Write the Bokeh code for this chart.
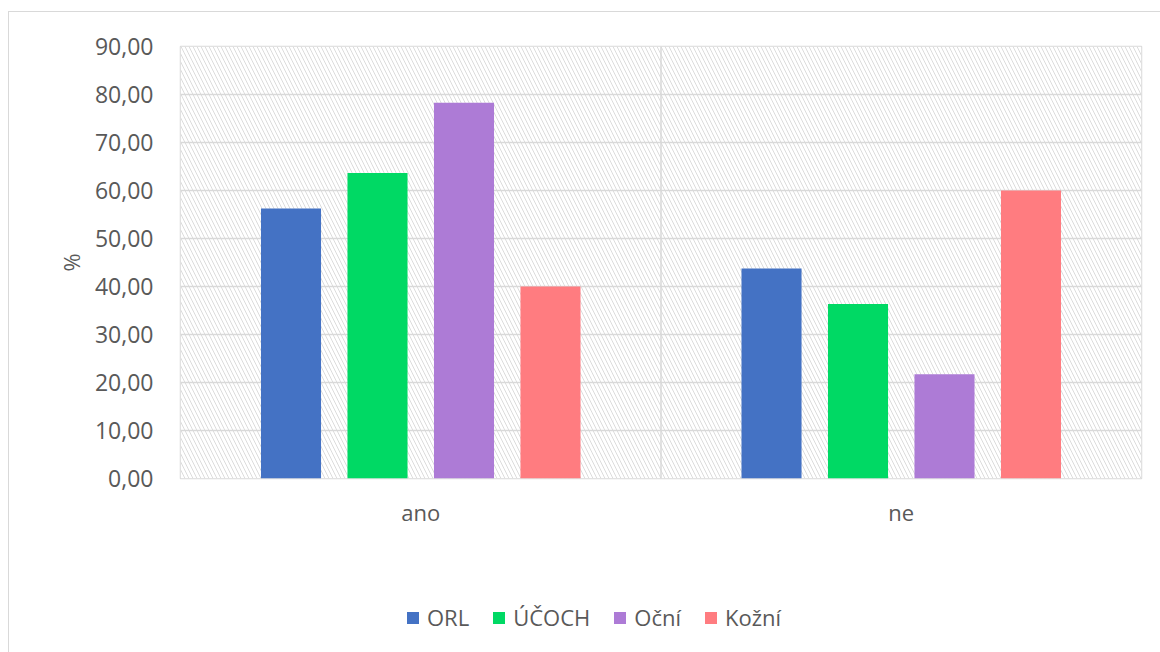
from bokeh.plotting import figure
from bokeh.layouts import column
from bokeh.models import (FactorRange, Range1d, BoxAnnotation, Span, Legend, LegendItem,
                          FixedTicker, CustomJSTickFormatter, ColumnDataSource)
from bokeh.transform import dodge
from bokeh.embed import file_html
from bokeh.resources import INLINE

categories = ["ano", "ne"]
series = ["ORL", "ÚČOCH", "Oční", "Kožní"]
orl = [56.25, 43.75]
ucoch = [63.64, 36.36]
ocni = [78.26, 21.74]
kozni = [40.00, 60.00]
colors = ["#4472C4", "#00D964", "#AD7BD6", "#FF7C80"]
yticks = [0, 10, 20, 30, 40, 50, 60, 70, 80, 90]

src = ColumnDataSource(dict(cat=categories, ORL=orl, UCOCH=ucoch, OCNI=ocni, KOZNI=kozni))
cols = ["ORL", "UCOCH", "OCNI", "KOZNI"]
offsets = [-0.27, -0.09, 0.09, 0.27]

FONT = "Open Sans"
TXT = "#595959"
GRID = "#d9d9d9"

xr = FactorRange(*categories, range_padding=0)
yr = Range1d(0, 90)

p = figure(x_range=xr, y_range=yr,
           width=1151, height=526, output_backend="svg", toolbar_location=None,
           min_border_left=171, min_border_right=19, min_border_top=34, min_border_bottom=60)

# hatched plot-area background
p.add_layout(BoxAnnotation(fill_color="white", fill_alpha=1.0, line_alpha=0,
                           hatch_pattern="\\", hatch_color="#dcdcdc", hatch_scale=8,
                           hatch_weight=1, level="image"))

for c, off, col in zip(cols, offsets, colors):
    p.vbar(x=dodge("cat", off, range=xr), top=c, width=0.125, bottom=0,
           source=src, fill_color=col, line_color=None)

p.outline_line_color = GRID
p.outline_line_width = 1.5
p.xgrid.visible = False
p.ygrid.grid_line_color = GRID
p.ygrid.grid_line_width = 1.5
p.add_layout(Span(location=1.0, dimension="height", line_color=GRID, line_width=1.5))

p.yaxis.ticker = FixedTicker(ticks=yticks)
p.yaxis.formatter = CustomJSTickFormatter(code="return tick.toFixed(2).replace('.', ',');")
for ax in (p.xaxis, p.yaxis):
    ax.axis_line_color = None
    ax.major_tick_line_color = None
    ax.minor_tick_line_color = None
    ax.major_tick_out = 0
    ax.major_tick_in = 0
    ax.major_label_text_font = FONT
    ax.major_label_text_color = TXT
p.yaxis.major_label_text_font_size = "23px"
p.yaxis.major_label_standoff = 27
p.xaxis.major_label_text_font_size = "22px"
p.xaxis.major_label_standoff = 18
p.yaxis.axis_label = "%"
p.yaxis.axis_label_text_font = FONT
p.yaxis.axis_label_text_font_size = "22px"
p.yaxis.axis_label_text_font_style = "normal"
p.yaxis.axis_label_text_color = TXT
p.yaxis.axis_label_standoff = 6

# legend strip below the chart (same data, renderers hidden, only legend shown)
pl = figure(x_range=xr, y_range=yr, width=1151, height=114, output_backend="svg",
            toolbar_location=None, x_axis_type=None, y_axis_type=None, min_border=0,
            outline_line_color=None)
pl.xgrid.visible = False
pl.ygrid.visible = False
items = []
for c, off, col, name in zip(cols, offsets, colors, series):
    r = pl.vbar(x=dodge("cat", off, range=xr), top=c, width=0.125, bottom=0,
                source=src, fill_color=col, line_color=None, visible=False)
    items.append(LegendItem(label=name, renderers=[r]))
legend = Legend(items=items, location=(225, 20), orientation="horizontal",
                label_text_font=FONT, label_text_font_size="22px", label_text_color=TXT,
                glyph_width=15, glyph_height=15, label_standoff=7, spacing=22,
                padding=0, margin=0, border_line_color=None, background_fill_alpha=0)
pl.add_layout(legend, "center")

layout = column(p, pl, spacing=0, margin=(11, 0, 0, 8))
layout.styles = {"border-left": "1px solid #d9d9d9", "border-top": "1px solid #d9d9d9"}

open("out.html", "w").write(file_html(layout, INLINE))
